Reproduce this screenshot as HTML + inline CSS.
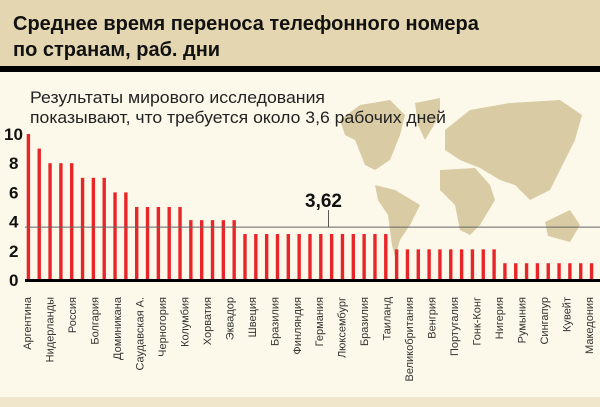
<!DOCTYPE html>
<html><head><meta charset="utf-8">
<style>
html,body{margin:0;padding:0;}
body{width:600px;height:407px;background:#fdf9ea;font-family:"Liberation Sans",sans-serif;overflow:hidden;position:relative;}
</style></head>
<body>
<svg width="600" height="407" style="position:absolute;left:0;top:0">
<rect x="0" y="0" width="600" height="66" fill="#e3d6b1"/>
<rect x="0" y="66" width="600" height="6" fill="#000"/>
<rect x="0" y="397" width="600" height="10" fill="#efe6cc"/>
<text x="13" y="30" font-size="20" font-weight="bold" fill="#111">Среднее время переноса телефонного номера</text>
<text x="13" y="56" font-size="20" font-weight="bold" fill="#111">по странам, раб. дни</text>
<g fill="#d9cba3">
<polygon points="340,120 360,105 390,100 405,115 400,135 390,160 375,170 365,165 355,140 345,135"/>
<polygon points="415,103 440,98 440,115 425,140 418,125"/>
<polygon points="375,185 395,190 420,205 410,225 400,240 395,257 392,245 388,215 378,200"/>
<polygon points="445,130 470,110 510,103 560,100 582,115 575,140 565,160 550,190 530,200 515,185 500,180 480,168 460,160 445,150"/>
<polygon points="440,170 475,168 490,185 495,200 480,225 470,235 460,230 455,205 440,190"/>
<polygon points="545,222 570,210 580,225 570,242 548,236"/>
</g>
<text x="30" y="103" font-size="17" textLength="295" lengthAdjust="spacingAndGlyphs" fill="#222">Результаты мирового исследования</text>
<text x="30" y="123" font-size="17" textLength="416" lengthAdjust="spacingAndGlyphs" fill="#222">показывают, что требуется около 3,6 рабочих дней</text>
<g id="yaxis"></g>
<g id="bars"></g>
<g id="labels"></g>
<g id="avg"></g>
<rect x="25" y="279" width="575" height="3" fill="#000"/>
</svg>
<script>
const values=[10,9,8,8,8,7,7,7,6,6,5,5,5,5,5,4.1,4.1,4.1,4.1,4.1,3.15,3.15,3.15,3.15,3.15,3.15,3.15,3.15,3.15,3.15,3.15,3.15,3.15,3.15,2.1,2.1,2.1,2.1,2.1,2.1,2.1,2.1,2.1,2.1,1.15,1.15,1.15,1.15,1.15,1.15,1.15,1.15,1.15];
const countries=["Аргентина","Нидерланды","Россия","Болгария","Доминикана","Саудавская А.","Черногория","Колумбия","Хорватия","Эквадор","Швеция","Бразилия","Финляндия","Германия","Люксембург","Бразилия","Таиланд","Великобритания","Венгрия","Португалия","Гонк-Конг","Нигерия","Румыния","Сингапур","Кувейт","Македония"];
const yTicks=[0,2,4,6,8,10];
const average=3.62;
const NS="http://www.w3.org/2000/svg";
const y=v=>280-v*14.6;
const bx=i=>26.7+i*10.83;
const yg=document.getElementById('yaxis');
yTicks.forEach(t=>{const e=document.createElementNS(NS,'text');
e.setAttribute('x',t>=10?4:9);e.setAttribute('y',y(t)+6);e.setAttribute('font-size','17');e.setAttribute('font-weight','bold');e.setAttribute('fill','#111');e.textContent=t;


yg.appendChild(e);});
const bg=document.getElementById('bars');
values.forEach((v,i)=>{const r=document.createElementNS(NS,'rect');
r.setAttribute('x',bx(i));r.setAttribute('y',y(v));r.setAttribute('width',3.4);r.setAttribute('height',280-y(v));r.setAttribute('fill','#e8262a');


bg.appendChild(r);});
const lg=document.getElementById('labels');
const n=countries.length;
countries.forEach((c,i)=>{const x=27+i*(589-27)/(n-1)+4;const e=document.createElementNS(NS,'text');
e.setAttribute('transform','translate('+x+',297) rotate(-90)');e.setAttribute('text-anchor','end');e.setAttribute('font-size','11');e.setAttribute('fill','#333');e.textContent=c;


lg.appendChild(e);});
const ag=document.getElementById('avg');
const ln=document.createElementNS(NS,'line');
ln.setAttribute('x1',25);ln.setAttribute('x2',600);ln.setAttribute('y1',y(average));ln.setAttribute('y2',y(average));ln.setAttribute('stroke','#666');ln.setAttribute('stroke-width','1');


ag.appendChild(ln);
const tk=document.createElementNS(NS,'line');
tk.setAttribute('x1',328.5);tk.setAttribute('x2',328.5);tk.setAttribute('y1',y(average)-17);tk.setAttribute('y2',y(average));tk.setAttribute('stroke','#555');


ag.appendChild(tk);
const at=document.createElementNS(NS,'text');
at.setAttribute('x',305);at.setAttribute('y',y(average)-20);at.setAttribute('font-size','19');at.setAttribute('font-weight','bold');at.setAttribute('fill','#111');at.textContent=String(average).replace('.',',');


ag.appendChild(at);
</script>
</body></html>
